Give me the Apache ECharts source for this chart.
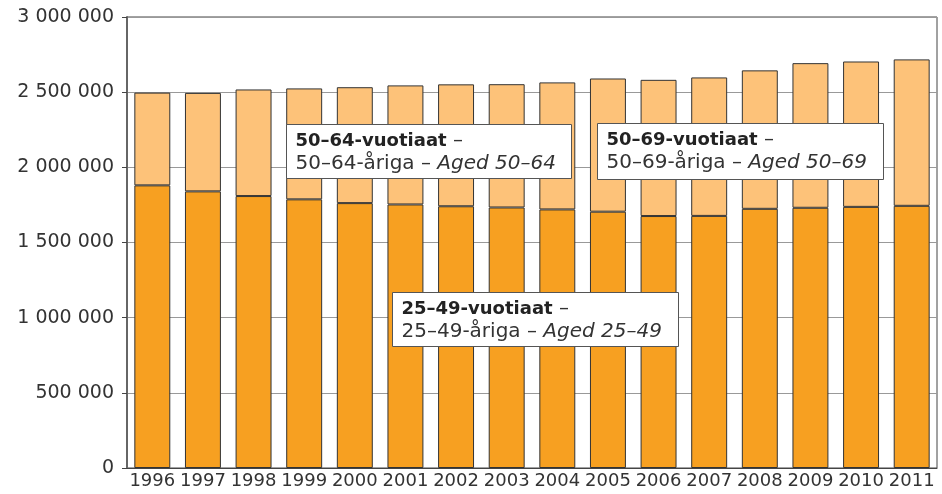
<!DOCTYPE html>
<html>
<head>
<meta charset="utf-8">
<script src="https://cdn.jsdelivr.net/npm/echarts@6/dist/echarts.min.js"></script>
<style>
  html, body { margin: 0; padding: 0; background: #fff; }
  #chart { width: 942px; height: 494px; }
</style>
</head>
<body>
<div id="chart"></div>
<script>
// vuodet
const years = ['1996', '1997', '1998', '1999', '2000', '2001', '2002', '2003',
  '2004', '2005', '2006', '2007', '2008', '2009', '2010', '2011']
// 25–49-vuotiaat (alempi osa)
const aged2549 = [1880000, 1840000, 1809000, 1787000, 1762000, 1753000, 1741000, 1733000,
  1720000, 1705000, 1676000, 1677000, 1724000, 1731000, 1737000, 1744000]
// koko pylvään korkeus
const totals = [2497000, 2495000, 2518000, 2525000, 2533000, 2545000, 2552000, 2553000,
  2565000, 2591000, 2582000, 2598000, 2645000, 2693000, 2704000, 2718000]
// 50–64 / 50–69-vuotiaat (ylempi osa)
const agedOlder = totals.map((t, i) => t - aged2549[i])
const yTicks = [0, 500000, 1000000, 1500000, 2000000, 2500000, 3000000]

const FONT = 'DejaVu Sans'
const chart = echarts.init(document.getElementById('chart'))

function box(x, y, w, h, bold, plain, italic) {
  return {
    type: 'group', left: x, top: y, z: 100,
    children: [
      { type: 'rect', z: 100, shape: { x: 0, y: 0, width: w, height: h },
        style: { fill: '#fff', stroke: '#555', lineWidth: 1 } },
      { type: 'text', z: 101, x: 9, y: 5, style: {
        text: '{b|' + bold + '}{n| –}\n{n|' + plain + '}{i|' + italic + '}',
        rich: {
          b: { fontFamily: FONT, fontSize: 18, fontWeight: 'bold', fill: '#222', lineHeight: 23 },
          n: { fontFamily: FONT, fontSize: 20, fill: '#333', lineHeight: 23 },
          i: { fontFamily: FONT, fontSize: 20, fontStyle: 'italic', fill: '#333', lineHeight: 23 }
        }
      } }
    ]
  }
}

chart.setOption({
  animation: false,
  grid: { left: 127, right: 5, top: 17, bottom: 26, show: true, borderColor: '#444', borderWidth: 1 },
  xAxis: {
    type: 'category', data: years,
    axisLine: { lineStyle: { color: '#444' } },
    axisTick: { show: false },
    axisLabel: { interval: 0, color: '#333', fontFamily: FONT, fontSize: 18, margin: 4 }
  },
  yAxis: {
    type: 'value', min: 0, max: 3000000, interval: 500000,
    axisLine: { show: true, lineStyle: { color: '#666', width: 2 } },
    axisTick: { show: true, length: 5, lineStyle: { color: '#444' } },
    splitLine: { lineStyle: { color: '#999' } },
    axisLabel: {
      color: '#333', fontFamily: FONT, fontSize: 19, margin: 13,
      formatter: v => yTicks.includes(v) ? String(v).replace(/\B(?=(\d{3})+(?!\d))/g, ' ') : ''
    }
  },
  series: [
    { type: 'bar', stack: 'a', data: aged2549, barCategoryGap: '29%',
      itemStyle: { color: '#F7A021', borderColor: '#333', borderWidth: 1 } },
    { type: 'bar', stack: 'a', data: agedOlder,
      itemStyle: { color: '#FDC279', borderColor: '#333', borderWidth: 1 } }
  ],
  graphic: [
    box(286, 124, 285, 54, '50–64-vuotiaat', '50–64-åriga – ', 'Aged 50–64'),
    box(597, 123, 286, 56, '50–69-vuotiaat', '50–69-åriga – ', 'Aged 50–69'),
    box(392, 292, 286, 54, '25–49-vuotiaat', '25–49-åriga – ', 'Aged 25–49')
  ]
})
</script>
</body>
</html>
